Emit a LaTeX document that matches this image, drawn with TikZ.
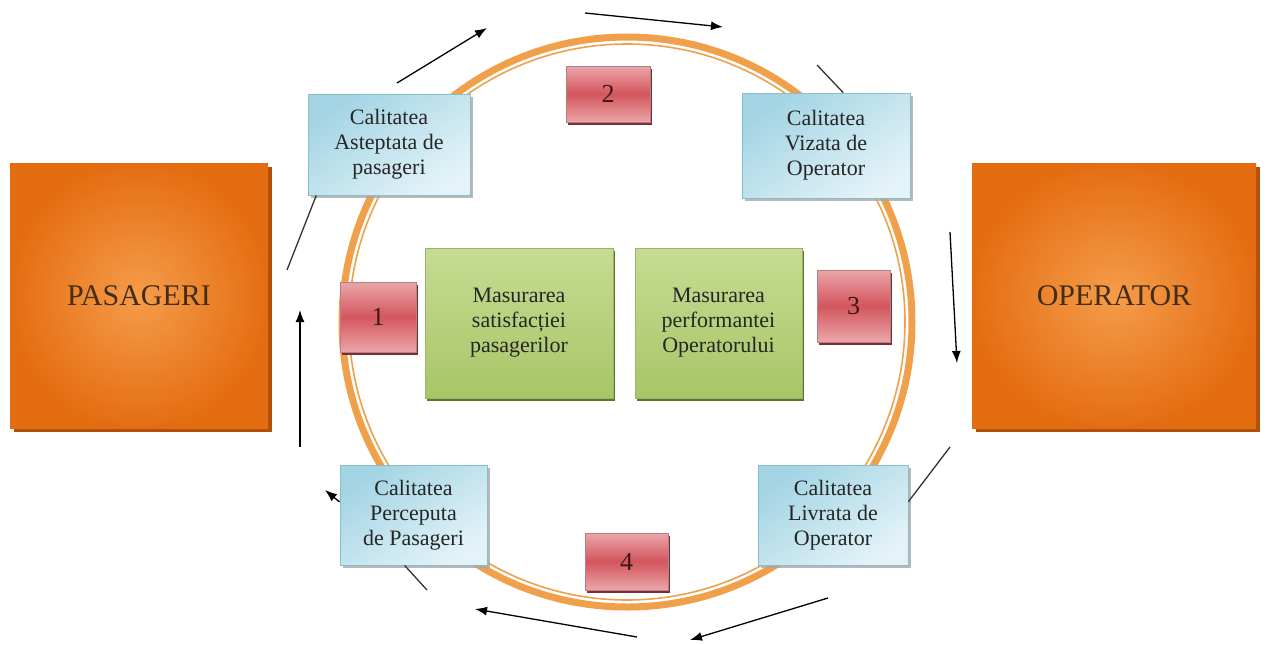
\documentclass[tikz,border=0pt]{standalone}
\usepackage{fontspec}
\setmainfont{Liberation Serif}
\newfontfamily\tnr{Liberation Serif}
\usetikzlibrary{arrows.meta,shadows}

\definecolor{ringor}{HTML}{F0A04B}
\definecolor{boxor}{HTML}{E46D12}
\definecolor{boxorin}{HTML}{F59C4A}
\definecolor{boxorsh}{HTML}{B0500C}
\definecolor{bluetop}{HTML}{A3D4E4}
\definecolor{bluebot}{HTML}{E3F3F8}
\definecolor{blueedge}{HTML}{8ABDCC}
\definecolor{greentop}{HTML}{C6DC93}
\definecolor{greenbot}{HTML}{A8C566}
\definecolor{greenedge}{HTML}{9AB56A}
\definecolor{greensh}{HTML}{5B7829}
\definecolor{redmid}{HTML}{D3565E}
\definecolor{redlt}{HTML}{EBA6A9}
\definecolor{redsh}{HTML}{7C2E32}

\begin{document}
\begin{tikzpicture}[x = 0.5pt, y = -0.5pt,
	txt/.style = {align = center, text = black!85, font = \tnr\fontsize{11}{12.5}\selectfont},
	side/.style = {inner color = boxorin, outer color = boxor, text = brown!35!black, font = \tnr\fontsize{15}{18}\selectfont,
		drop shadow = {shadow xshift = 2pt, shadow yshift = -2pt, fill = boxorsh, opacity = 1}},
	qual/.style = {txt, draw = blueedge, top color = bluetop, bottom color = bluebot, shading angle = 35,
		drop shadow = {shadow xshift = 1.5pt, shadow yshift = -1.5pt, fill = gray!70, opacity = 0.8}},
	meas/.style = {txt, draw = greenedge, top color = greentop, bottom color = greenbot,
		drop shadow = {shadow xshift = 1pt, shadow yshift = -1.5pt, fill = greensh, opacity = 1}},
	num/.style = {draw = redsh!60, top color = redlt, bottom color = redlt, middle color = redmid,
		text = redsh!50!black, font = \tnr\fontsize{13}{15}\selectfont,
		drop shadow = {shadow xshift = 1pt, shadow yshift = -1.5pt, fill = redsh, opacity = 1}},
	arr/.style = {-{Latex[length = 6pt, width = 4.5pt]}, line width = 0.65pt},
	ln/.style = {line width = 0.65pt, draw = black!80}]
	\useasboundingbox (0,0) rectangle (1266,644);
	% ring
	\coordinate (C) at (627,322);
	\draw[ringor, line width = 3.5pt] (C) circle [radius = 142.5pt];
	\draw[ringor, line width = 0.8pt] (C) circle [radius = 139pt];
	% actors
	\node[side, minimum width = 129pt, minimum height = 132.5pt] (PAS) at (139,295.5) {PASAGERI};
	\node[side, minimum width = 142pt, minimum height = 132.5pt] (OPR) at (1114,295.5) {OPERATOR};
	% quality boxes
	\node[qual, minimum width = 81pt, minimum height = 50.5pt] (EXP) at (389,144.5) {Calitatea\\Asteptata de\\pasageri};
	\node[qual, minimum width = 84pt, minimum height = 52.5pt] (VIZ) at (826,145.5) {Calitatea\\Vizata de\\Operator};
	\node[qual, minimum width = 73.5pt, minimum height = 50pt] (PER) at (413.5,515) {Calitatea\\Perceputa\\de Pasageri};
	\node[qual, minimum width = 75pt, minimum height = 50pt] (LIV) at (833,515) {Calitatea\\Livrata de\\Operator};
	\node[meas, minimum width = 94pt, minimum height = 75pt] (SAT) at (519,323) {Masurarea\\satisfacției\\pasagerilor};
	\node[meas, minimum width = 83.5pt, minimum height = 75pt] (PERF) at (718.5,323) {Masurarea\\performantei\\Operatorului};
	% gaps
	\node[num, minimum width = 38pt, minimum height = 35pt] (N1) at (378,317) {1};
	\node[num, minimum width = 42pt, minimum height = 28pt] (N2) at (608,94) {2};
	\node[num, minimum width = 36.5pt, minimum height = 36pt] (N3) at (853.5,306) {3};
	\node[num, minimum width = 41.5pt, minimum height = 28.5pt] (N4) at (626.5,561.5) {4};
	% flow
	\coordinate (A1) at (397,83);  \coordinate (B1) at (487,28);
	\coordinate (A2) at (585,13);  \coordinate (B2) at (723,27);
	\coordinate (A3) at (817,65);
	\coordinate (A4) at (950,232); \coordinate (B4) at (957,363);
	\coordinate (A5) at (950,447);
	\coordinate (A6) at (828,598); \coordinate (B6) at (690,640);
	\coordinate (A7) at (637,637); \coordinate (B7) at (475,609);
	\coordinate (A8) at (427,590);
	\coordinate (B9) at (325,490);
	\coordinate (A10) at (300,447); \coordinate (B10) at (300,310);
	\coordinate (A11) at (287,270);
	\draw[arr] (A1) -- (B1);
	\draw[arr] (A2) -- (B2);
	\draw[ln] (A3) -- (VIZ.72);
	\draw[arr] (A4) -- (B4);
	\draw[ln] (LIV.10) -- (A5);
	\draw[arr] (A6) -- (B6);
	\draw[arr] (A7) -- (B7);
	\draw[ln] (PER.-100) -- (A8);
	\draw[arr] (PER.170) -- (B9);
	\draw[arr] (A10) -- (B10);
	\draw[ln] (A11) -- (EXP.215);
\end{tikzpicture}
\end{document}
